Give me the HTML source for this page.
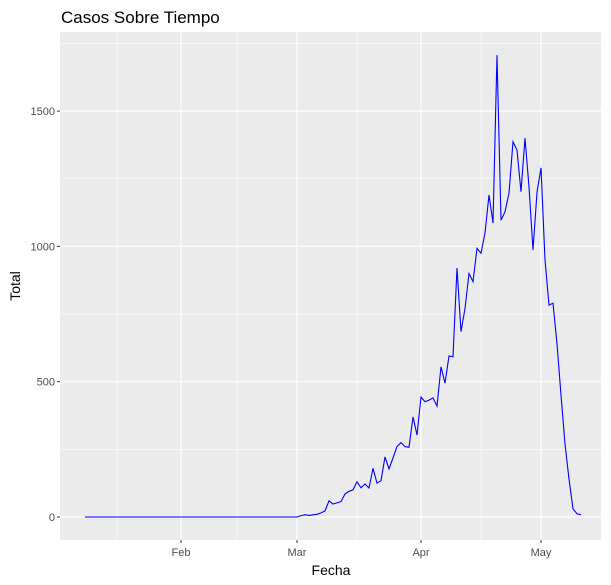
<!DOCTYPE html>
<html><head><meta charset="utf-8">
<style>
body{margin:0;background:#fff;}
svg{display:block;font-family:"Liberation Sans",Arial,sans-serif;}
</style></head>
<body>
<svg id="chart" width="611" height="585">
  <text x="61" y="23" font-size="17" fill="#000">Casos Sobre Tiempo</text>
  <rect x="60" y="32" width="541" height="508" fill="#ebebeb"/>
  <g id="grid"></g>
  <g id="axes"></g>
  <path id="line" fill="none" stroke="#0000ff" stroke-width="1.1"/>
  <text x="331" y="575" font-size="14" text-anchor="middle" fill="#000">Fecha</text>
  <text transform="translate(20,286) rotate(-90)" font-size="14" text-anchor="middle" fill="#000">Total</text>
</svg>
<script>
const startDate = "2020-01-08";
const values = [0,0,0,0,0,0,0,0,0,0,0,0,0,0,0,0,0,0,0,0,0,0,0,0,0,0,0,0,0,0,0,0,0,0,0,0,0,0,0,0,0,0,0,0,0,0,0,0,0,0,0,0,0,
0,5,8,6,8,10,15,22,60,48,52,57,85,95,100,130,108,122,107,180,125,134,222,178,218,260,275,260,258,370,303,
443,426,432,440,410,555,495,595,592,920,685,770,900,870,993,975,1050,1190,1086,1707,1097,1128,1197,1387,1356,1202,1400,1220,987,1200,1290,950,783,790,640,450,270,140,30,12,8];
const yTicks = [0,500,1000,1500];
const xTickLabels = ["Feb","Mar","Apr","May"];
const xTickDates = ["2020-02-01","2020-03-01","2020-04-01","2020-05-01"];
const xMinorDates = ["2020-01-16","2020-02-15","2020-03-16","2020-04-16","2020-05-16"];

const ns="http://www.w3.org/2000/svg";
const DAY=86400000;
const t0=Date.parse(startDate);
function dayIdx(s){return (Date.parse(s)-t0)/DAY;}
function xs(d){return 181+(d-24)*4;}
function ys(v){return 517-v*0.2706;}
const grid=document.getElementById('grid'), axes=document.getElementById('axes');
function ln(g,x1,y1,x2,y2,w){const l=document.createElementNS(ns,'line');l.setAttribute('x1',x1);l.setAttribute('y1',y1);l.setAttribute('x2',x2);l.setAttribute('y2',y2);l.setAttribute('stroke','#fff');l.setAttribute('stroke-width',w);g.appendChild(l);return l;}
// minor y
for(let i=0;i<yTicks.length;i++){
  const yv=yTicks[i]+250; const y=ys(yv);
  if(y>32){const l=ln(grid,60,y,601,y,0.6);
  
  }
}
xMinorDates.forEach(d=>{const x=xs(dayIdx(d)); if(x<601){const l=ln(grid,x,32,x,540,0.6);
  
  }});
yTicks.forEach(v=>{const y=ys(v);const l=ln(grid,60,y,601,y,1.2);
  
  
  const tk=document.createElementNS(ns,'line');tk.setAttribute('x1',57);tk.setAttribute('x2',60);tk.setAttribute('y1',y);tk.setAttribute('y2',y);tk.setAttribute('stroke','#333');axes.appendChild(tk);
  
  
  const t=document.createElementNS(ns,'text');t.setAttribute('x',55);t.setAttribute('y',y+4);t.setAttribute('text-anchor','end');t.setAttribute('font-size','11');t.setAttribute('fill','#4d4d4d');t.textContent=v;axes.appendChild(t);
  
  
});
xTickDates.forEach((d,i)=>{const x=xs(dayIdx(d));const l=ln(grid,x,32,x,540,1.2);
  
  
  const tk=document.createElementNS(ns,'line');tk.setAttribute('x1',x);tk.setAttribute('x2',x);tk.setAttribute('y1',540);tk.setAttribute('y2',543);tk.setAttribute('stroke','#333');axes.appendChild(tk);
  
  
  const t=document.createElementNS(ns,'text');t.setAttribute('x',x);t.setAttribute('y',556);t.setAttribute('text-anchor','middle');t.setAttribute('font-size','11');t.setAttribute('fill','#4d4d4d');t.textContent=xTickLabels[i];axes.appendChild(t);
  
  
});
let d='';
values.forEach((v,i)=>{d+=(i?'L':'M')+xs(i).toFixed(1)+','+ys(v).toFixed(1);});
document.getElementById('line').setAttribute('d',d);
</script>
</body></html>
